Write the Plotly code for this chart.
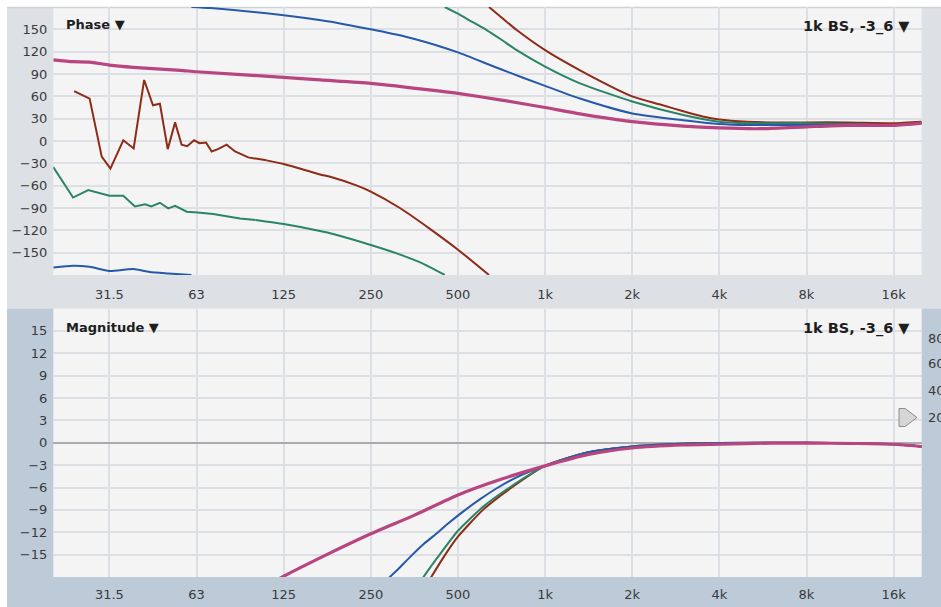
import plotly.graph_objects as go

# ---------------- data ----------------
tick_vals = [31.25, 62.5, 125, 250, 500, 1000, 2000, 4000, 8000, 16000]
tick_text = ["31.5", "63", "125", "250", "500", "1k", "2k", "4k", "8k", "16k"]
phase_ticks = [150, 120, 90, 60, 30, 0, -30, -60, -90, -120, -150]
mag_ticks = [15, 12, 9, 6, 3, 0, -3, -6, -9, -12, -15]
right_labels = ["80", "60", "40", "20"]

# Phase (degrees, wrapped as displayed; None = wrap gap)
red_ph_f = [23.6, 26.7, 29.4, 31.5, 34.9, 37.9, 41.2, 44.2, 46.7, 49.7, 52.7, 55.5, 58, 61.3, 64, 67.4,
            70.5, 74.1, 79.4, 84.9, 94.3, 109, 125, 167, 181, 224, 250, 315, 400, 500, 640,
            None, 640, 707, 798, 1000, 1320, 2000, 2500, 3000, 3500, 4000, 5000, 6000, 8000, 11000, 16000, 20000]
red_ph = [67, 57, -21, -37, 1, -10, 82, 48, 50, -11, 25, -5, -7, 1, -3, -2,
          -14, -11, -5, -14, -22, -26, -31, -45, -48, -60, -68, -90, -118, -146, -180,
          None, 180, 166, 149, 122, 95, 60, 49, 40, 33, 29, 26, 25, 25, 25, 24, 26]

green_ph_f = [20, 23.4, 26.4, 31.25, 34.9, 38.3, 41.5, 43.6, 46.7, 49.9, 52.7, 57.8, 63, 71.3, 88.3, 100,
              125, 167, 181, 250, 307, 380, 450,
              None, 450, 500, 560, 628, 707, 798, 1000, 1320, 2000, 3000, 4000, 5000, 8000, 11000, 16000, 20000]
green_ph = [-35, -76, -66, -73.5, -73.5, -88, -85, -88, -83, -90.5, -87, -95, -96, -98, -104, -106,
            -111.5, -121, -124, -139.7, -151, -165, -180,
            None, 180, 171, 160, 149, 136, 122, 100, 77.5, 53, 35, 26, 24, 24, 23, 21.5, 24.5]

blue_ph_f = [20, 23.4, 26.7, 31.25, 37.8, 43, 50, 60,
             None, 60, 70, 125, 177, 250, 330, 434, 500, 707, 1000, 1320, 2000, 3000, 4000, 5000, 8000,
             11000, 16000, 20000]
blue_ph = [-170, -167.5, -169, -174.5, -172, -176, -178, -180,
           None, 180, 178.5, 169, 161, 150, 140, 127, 119, 96, 74, 57, 37, 28, 23, 21.5, 21.5,
           22, 21.5, 24]

magenta_ph_f = [20, 23.4, 26.7, 31.25, 37.8, 55, 62.5, 125, 167, 250, 434, 500, 707, 1000, 1320, 2000,
                3000, 4000, 5500, 8000, 11000, 16000, 20000]
magenta_ph = [109, 106.5, 106, 102, 99, 95, 93, 85.5, 82, 77.5, 67, 64, 55, 45, 36.5, 26,
              20, 17.5, 16.5, 19, 21, 21, 24]

# Magnitude (dB)
red_mag_f = [370, 400, 452, 500, 610, 760, 1000, 1400, 2000, 3000, 4000, 8000, 12000, 16000, 20000]
red_mag = [-20.5, -18.3, -15.0, -12.6, -9.0, -6.1, -3.1, -1.3, -0.5, -0.15, -0.05, 0, -0.1, -0.2, -0.5]

green_mag_f = [350, 380, 440, 500, 610, 760, 1000, 1400, 2000, 3000, 4000, 8000, 12000, 16000, 20000]
green_mag = [-20.2, -18, -14.6, -11.8, -8.6, -5.9, -3.1, -1.3, -0.5, -0.15, -0.05, 0, -0.1, -0.2, -0.5]

blue_mag_f = [270, 291, 310, 346, 380, 427, 460, 522, 600, 681, 800, 1000, 1400, 2000, 3000, 4000, 8000,
              12000, 16000, 20000]
blue_mag = [-19.5, -18, -17, -15.1, -13.6, -12, -10.9, -9.2, -7.5, -6.1, -4.6, -3.1, -1.3, -0.5, -0.15,
            -0.05, 0, -0.1, -0.2, -0.5]

magenta_mag_f = [110, 125, 176, 250, 354, 500, 717, 1000, 1400, 2000, 3000, 4000, 6000, 8000, 12000, 16000, 20000]
magenta_mag = [-19.1, -17.9, -15, -12.2, -9.7, -7.0, -4.8, -3.1, -1.6, -0.7, -0.3, -0.2, -0.05, -0.05, -0.1, -0.2, -0.5]

RED = "#8e2b17"
GREEN = "#2b8466"
BLUE = "#2659a8"
MAGENTA = "#b8457f"

NOISY_LIMIT = 95  # below this the measured phase is jagged, drawn straight segment to segment

# ---------------- layout helpers ----------------
W, H = 941, 607


def px(x):
    return x / W


def py(y):
    return 1 - y / H


PL, PR = 53.3, 921.7
TOP_T, TOP_B = 7, 275
BOT_T, BOT_B = 308.5, 577

fig = go.Figure()


def add(xs, ys, color, width, yaxis, shape="spline"):
    fig.add_trace(go.Scatter(
        x=xs, y=ys, mode="lines", xaxis="x" if yaxis == "y" else "x2", yaxis=yaxis,
        line=dict(color=color, width=width, shape=shape, smoothing=0.6),
        connectgaps=False, hoverinfo="skip", showlegend=False))


def add_noisy(xs, ys, color, width):
    # jagged low-frequency part (linear) + smooth remainder (spline), sharing one point
    k = next(i for i, f in enumerate(xs) if f is not None and f >= NOISY_LIMIT)
    add(xs[:k + 1], ys[:k + 1], color, width, "y", "linear")
    add(xs[k:], ys[k:], color, width, "y", "spline")


add_noisy(red_ph_f, red_ph, RED, 2)
add_noisy(green_ph_f, green_ph, GREEN, 2)
add(blue_ph_f, blue_ph, BLUE, 2, "y")
add(magenta_ph_f, magenta_ph, MAGENTA, 3.2, "y")

add(red_mag_f, red_mag, RED, 2, "y2")
add(green_mag_f, green_mag, GREEN, 2, "y2")
add(blue_mag_f, blue_mag, BLUE, 2, "y2")
add(magenta_mag_f, magenta_mag, MAGENTA, 3.2, "y2")

FONT = "DejaVu Sans, Verdana, sans-serif"
tickfont = dict(family=FONT, size=13, color="#3a3a3a")
GRID = "#dcdfe3"

xcommon = dict(type="log", range=[1.30103, 4.30103], tickvals=tick_vals, ticktext=tick_text,
               showgrid=True, gridcolor=GRID, gridwidth=1.5, zeroline=False, showline=False,
               ticks="", tickfont=tickfont, fixedrange=True)

fig.update_layout(
    width=W, height=H, margin=dict(l=0, r=0, t=0, b=0),
    paper_bgcolor="white", plot_bgcolor="rgba(0,0,0,0)",
    xaxis=dict(domain=[px(PL), px(PR)], anchor="y", ticklabelstandoff=10, **xcommon),
    xaxis2=dict(domain=[px(PL), px(PR)], anchor="y2", ticklabelstandoff=8, **xcommon),
    yaxis=dict(domain=[py(TOP_B), py(TOP_T)], range=[-180, 180], tickvals=phase_ticks,
               showgrid=True, gridcolor=GRID, gridwidth=1.5, zeroline=False, showline=False,
               ticks="", tickfont=tickfont, ticklabelstandoff=5, fixedrange=True),
    yaxis2=dict(domain=[py(BOT_B), py(BOT_T)], range=[-18, 18], tickvals=mag_ticks,
                showgrid=True, gridcolor=GRID, gridwidth=1.5, zeroline=True,
                zerolinecolor="#a9abaf", zerolinewidth=2, showline=False,
                ticks="", tickfont=tickfont, ticklabelstandoff=5, fixedrange=True),
)

shapes = [
    # frames
    dict(type="rect", xref="paper", yref="paper", x0=px(7), x1=1, y0=py(308.5), y1=py(7),
         fillcolor="#dde1e6", line=dict(width=0), layer="below"),
    dict(type="rect", xref="paper", yref="paper", x0=px(7), x1=1, y0=0, y1=py(308.5),
         fillcolor="#bdcad8", line=dict(width=0), layer="below"),
    # plot backgrounds
    dict(type="rect", xref="paper", yref="paper", x0=px(PL), x1=px(PR), y0=py(TOP_B), y1=py(TOP_T),
         fillcolor="#f4f4f4", line=dict(width=0), layer="below"),
    dict(type="rect", xref="paper", yref="paper", x0=px(PL), x1=px(PR), y0=py(BOT_B), y1=py(BOT_T),
         fillcolor="#f4f4f4", line=dict(width=0), layer="below"),
    # top border line
    dict(type="line", xref="paper", yref="paper", x0=px(7), x1=1, y0=py(7.5), y1=py(7.5),
         line=dict(color="#cfd3d9", width=1.5), layer="below"),
    # pointer marker
    dict(type="path", xref="paper", yref="paper",
         path="M {:.5f},{:.5f} L {:.5f},{:.5f} L {:.5f},{:.5f} L {:.5f},{:.5f} L {:.5f},{:.5f} Z".format(
             px(899), py(408.5), px(905), py(408.5), px(917), py(417.5), px(905), py(426.5), px(899), py(426.5)),
         fillcolor="#d6d6d6", line=dict(color="#8c8c8c", width=1), layer="above"),
]
fig.update_layout(shapes=shapes)

ann = []
titlefont = dict(family=FONT, size=13, color="#1e1e1e")
rtitlefont = dict(family=FONT, size=14.5, color="#1e1e1e")
ann.append(dict(text="<b>Phase ▼</b>", xref="paper", yref="paper", x=px(64), y=py(25),
                xanchor="left", yanchor="middle", showarrow=False, font=titlefont))
ann.append(dict(text="<b>1k BS, -3_6 ▼</b>", xref="paper", yref="paper", x=px(912), y=py(26),
                xanchor="right", yanchor="middle", showarrow=False, font=rtitlefont))
ann.append(dict(text="<b>Magnitude ▼</b>", xref="paper", yref="paper", x=px(64), y=py(327),
                xanchor="left", yanchor="middle", showarrow=False, font=titlefont))
ann.append(dict(text="<b>1k BS, -3_6 ▼</b>", xref="paper", yref="paper", x=px(912), y=py(329),
                xanchor="right", yanchor="middle", showarrow=False, font=rtitlefont))
for lab, yy in zip(right_labels, [338, 363, 390, 417]):
    ann.append(dict(text=lab, xref="paper", yref="paper", x=px(926), y=py(yy),
                    xanchor="left", yanchor="middle", showarrow=False, font=tickfont))
fig.update_layout(annotations=ann)

fig.write_html("out.html", config={"displayModeBar": False},
               post_script="document.body.style.margin='0px';document.body.style.padding='0px';"
                           "document.body.style.overflow='hidden';")
